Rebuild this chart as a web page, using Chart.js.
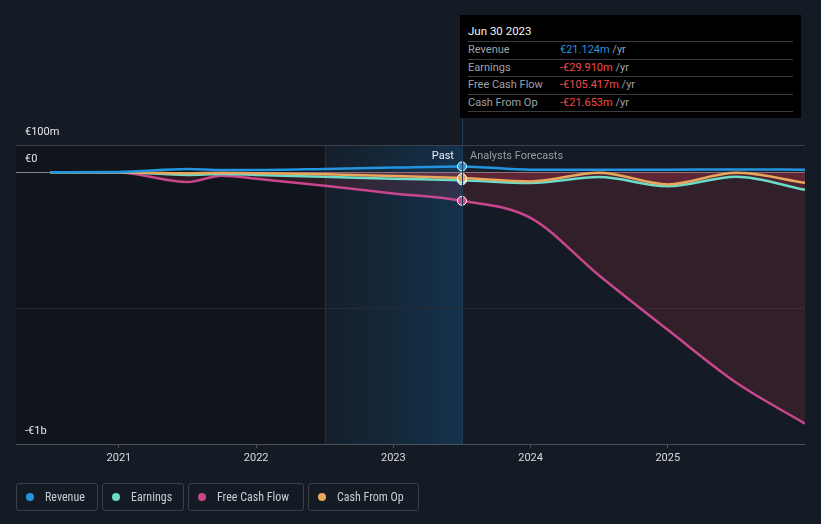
<!DOCTYPE html>
<html>
<head>
<meta charset="utf-8">
<script src="https://cdn.jsdelivr.net/npm/chart.js@4.4.0/dist/chart.umd.min.js"></script>
<style>
    html, body { margin: 0; padding: 0; background: #151b24; }
    body { width: 821px; height: 524px; position: relative; overflow: hidden; font-family: Roboto, "Noto Sans", sans-serif; }
    #chart { position: absolute; left: 0; top: 0; }
    #tip { position: absolute; left: 460px; top: 15px; width: 341px; height: 103px; background: #000; box-sizing: border-box; padding: 0 8px; }
    #tip .title { color: #f2f2f2; font-size: 11.5px; height: 26px; line-height: 32px; border-bottom: 1px solid #3a3d42; }
    #tip .row { height: 16.5px; line-height: 16.5px; font-size: 11px; color: #9ea2a8; border-bottom: 1px solid #3a3d42; position: relative; }
    #tip .row span.v { position: absolute; left: 92px; }
    #tip .pos { color: #2394df; }
    #tip .neg { color: #f04b4b; }
    #legend { position: absolute; left: 16px; top: 483px; display: flex; gap: 4px; }
    .item { height: 26px; border: 1px solid #3a3f48; border-radius: 3px; box-sizing: border-box; height: 28px; display: flex; align-items: center; padding-left: 9px; color: #c9cdd2; font-size: 12px; white-space: nowrap; overflow: hidden;
            font-family: "Liberation Sans Narrow", "Roboto Condensed", "DejaVu Sans Condensed", Roboto, sans-serif; }
    .item i { display: inline-block; width: 8px; height: 8px; border-radius: 50%; margin-right: 11px; flex: none; }
</style>
</head>
<body>
<canvas id="chart" width="821" height="524"></canvas>
<div id="tip"></div>
<div id="legend"></div>
<script>
// dates as decimal years (x = 2023.5 means Jun 30 2023)
const dates = [2020.5, 2021.0, 2021.5, 2021.75, 2022.0, 2022.5, 2023.0, 2023.5, 2024.0, 2024.5, 2025.0, 2025.5, 2026.0];
const yearTicks = [2021, 2022, 2023, 2024, 2025];

// values in € millions
const revenue      = [0, 1, 12, 8, 8, 12, 17, 21.124, 9, 9, 9, 10, 9];
const earnings     = [0, 0, -10, -7, -10, -17, -24, -29.91, -40, -18, -52, -17, -65];
const freeCashFlow = [0, -1, -36, -13, -24, -50, -78, -105.417, -168, -380, -580, -775, -925];
const cashFromOp   = [0, 0, -4, -2, -4, -8, -14, -21.653, -34, -2, -45, -2, -39];

const seriesNames = ['Revenue', 'Earnings', 'Free Cash Flow', 'Cash From Op'];
const seriesColors = ['#2394df', '#6cdcc8', '#c8478c', '#e9a75c'];
const seriesValues = [revenue, earnings, freeCashFlow, cashFromOp];
const seriesOrder = [0, 2, 3, 1];
const legendWidths = [82, 82, 116, 111];

const pastStart = 2022.5;
const nowDate = 2023.5;
const tipDate = 'Jun 30 2023';
const tipValues = ['€21.124m', '-€29.910m', '-€105.417m', '-€21.653m'];

const yTicks = [100, 0, -500, -1000];
const yLabels = { '100': '€100m', '0': '€0', '-1000': '-€1b' };

// tooltip box
const tip = document.getElementById('tip');
let html = '<div class="title">' + tipDate + '</div>';
seriesNames.forEach((name, i) => {
    const cls = tipValues[i].startsWith('-') ? 'neg' : 'pos';
    html += '<div class="row">' + name + '<span class="v"><span class="' + cls + '">' + tipValues[i] + '</span> /yr</span></div>';
});
tip.innerHTML = html;

// legend
const legend = document.getElementById('legend');
seriesNames.forEach((name, i) => {
    const el = document.createElement('div');
    el.className = 'item';
    el.style.width = legendWidths[i] + 'px';
    el.innerHTML = '<i style="background:' + seriesColors[i] + '"></i>' + name;
    legend.appendChild(el);
});

const backdrop = {
    id: 'backdrop',
    beforeDraw(chart) {
        const { ctx, chartArea: a, scales: { x } } = chart;
        ctx.save();
        ctx.fillStyle = '#151b24';
        ctx.fillRect(0, 0, chart.width, chart.height);
        const xs = x.getPixelForValue(pastStart);
        const xn = x.getPixelForValue(nowDate);
        ctx.fillStyle = 'rgba(0,0,0,0.22)';
        ctx.fillRect(a.left, a.top, xs - a.left, a.bottom - a.top);
        const g = ctx.createLinearGradient(xs, 0, xn, 0);
        g.addColorStop(0, 'rgba(20,48,72,0.2)');
        g.addColorStop(1, 'rgba(20,54,84,0.85)');
        ctx.fillStyle = g;
        ctx.fillRect(xs, a.top, xn - xs, a.bottom - a.top);
        ctx.strokeStyle = 'rgba(40,70,100,0.5)';
        ctx.beginPath();
        ctx.moveTo(Math.round(xs) + 0.5, a.top);
        ctx.lineTo(Math.round(xs) + 0.5, a.bottom);
        ctx.stroke();
        ctx.restore();
    },
    afterDatasetsDraw(chart) {
        const { ctx, chartArea: a, scales: { x } } = chart;
        const xn = x.getPixelForValue(nowDate);
        ctx.save();
        ctx.strokeStyle = '#1f3b56';
        ctx.lineWidth = 1;
        ctx.beginPath();
        ctx.moveTo(Math.round(xn) + 0.5, 118);
        ctx.lineTo(Math.round(xn) + 0.5, a.bottom);
        ctx.stroke();
        ctx.font = '11px Roboto';
        ctx.textBaseline = 'middle';
        ctx.textAlign = 'right';
        ctx.fillStyle = '#eeeeee';
        ctx.fillText('Past', xn - 8, 156);
        ctx.textAlign = 'left';
        ctx.fillStyle = '#989ca2';
        ctx.fillText('Analysts Forecasts', xn + 8, 156);
        ctx.restore();
    }
};

const datasets = seriesNames.map((name, i) => ({
    label: name,
    data: dates.map((d, j) => ({ x: d, y: seriesValues[i][j] })),
    borderColor: seriesColors[i],
    backgroundColor: seriesColors[i],
    borderWidth: 2.5,
    cubicInterpolationMode: 'monotone',
    order: seriesOrder[i],
    fill: { target: 'origin', above: 'rgba(35,148,223,0.06)', below: 'rgba(215,60,80,0.15)' },
    pointRadius: (c) => (c.raw && c.raw.x === nowDate ? 4.5 : 0),
    pointHoverRadius: 0,
    pointBorderColor: '#ffffff',
    pointBorderWidth: 1,
    pointBackgroundColor: seriesColors[i]
}));

new Chart(document.getElementById('chart'), {
    type: 'line',
    data: { datasets: datasets },
    options: {
        responsive: false,
        animation: false,
        events: [],
        layout: { padding: { top: 145, left: 16, right: 16, bottom: 0 } },
        plugins: { legend: { display: false }, tooltip: { enabled: false } },
        scales: {
            x: {
                type: 'linear',
                min: 2020.25,
                max: 2026,
                afterBuildTicks: (s) => { s.ticks = yearTicks.map(v => ({ value: v })); },
                afterFit: (s) => { s.height = 80; },
                ticks: {
                    color: '#d9dbde',
                    font: { family: 'Roboto', size: 11 },
                    padding: 4,
                    maxRotation: 0,
                    callback: (v) => String(v)
                },
                grid: { drawOnChartArea: false, drawTicks: true, tickLength: 4, color: '#4a4f58' },
                border: { display: true, color: '#4a4f58' }
            },
            y: {
                type: 'linear',
                min: -1000,
                max: 100,
                afterBuildTicks: (s) => { s.ticks = yTicks.map(v => ({ value: v })); },
                afterFit: (s) => { s.width = 0; },
                ticks: {
                    mirror: true,
                    padding: 9,
                    labelOffset: -13,
                    color: '#e6e7e9',
                    font: { family: 'Roboto', size: 11 },
                    callback: (v) => yLabels[String(v)] || ''
                },
                grid: {
                    drawTicks: false,
                    color: (c) => c.tick.value === 0 ? 'rgba(205,205,205,0.6)' : (c.tick.value === -500 ? '#262b33' : '#3b4049')
                },
                border: { display: false }
            }
        }
    },
    plugins: [backdrop]
});
</script>
</body>
</html>
